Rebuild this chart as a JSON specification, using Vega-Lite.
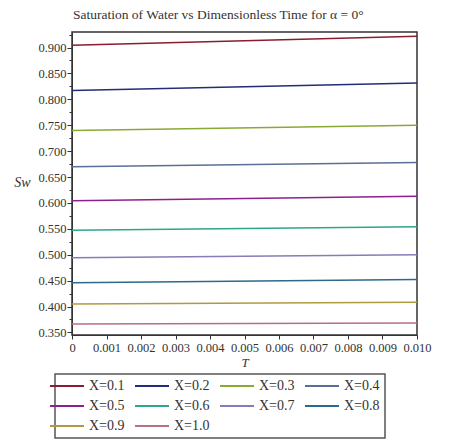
{
  "$schema": "https://vega.github.io/schema/vega-lite/v6.json",
  "width": 345,
  "height": 303,
  "autosize": "none",
  "padding": {"left": 72, "top": 32, "right": 47, "bottom": 111},
  "background": "white",
  "title": {
    "text": "Saturation of Water vs Dimensionless Time for α = 0°",
    "anchor": "start",
    "frame": "group",
    "dx": 1,
    "offset": 11,
    "font": "Liberation Serif",
    "fontSize": 13.5,
    "fontWeight": "normal",
    "color": "#333"
  },
  "data": {
    "values": [
      {"T": 0, "Sw": 0.9045, "X": "X=0.1"},
      {"T": 0.01, "Sw": 0.922, "X": "X=0.1"},
      {"T": 0, "Sw": 0.817, "X": "X=0.2"},
      {"T": 0.01, "Sw": 0.8316, "X": "X=0.2"},
      {"T": 0, "Sw": 0.740, "X": "X=0.3"},
      {"T": 0.01, "Sw": 0.750, "X": "X=0.3"},
      {"T": 0, "Sw": 0.670, "X": "X=0.4"},
      {"T": 0.01, "Sw": 0.678, "X": "X=0.4"},
      {"T": 0, "Sw": 0.604, "X": "X=0.5"},
      {"T": 0.01, "Sw": 0.613, "X": "X=0.5"},
      {"T": 0, "Sw": 0.547, "X": "X=0.6"},
      {"T": 0.01, "Sw": 0.554, "X": "X=0.6"},
      {"T": 0, "Sw": 0.494, "X": "X=0.7"},
      {"T": 0.01, "Sw": 0.500, "X": "X=0.7"},
      {"T": 0, "Sw": 0.446, "X": "X=0.8"},
      {"T": 0.01, "Sw": 0.452, "X": "X=0.8"},
      {"T": 0, "Sw": 0.405, "X": "X=0.9"},
      {"T": 0.01, "Sw": 0.408, "X": "X=0.9"},
      {"T": 0, "Sw": 0.366, "X": "X=1.0"},
      {"T": 0.01, "Sw": 0.368, "X": "X=1.0"}
    ]
  },
  "layer": [
    {
      "mark": {"type": "line", "strokeWidth": 1.5},
      "encoding": {
        "x": {
          "field": "T",
          "type": "quantitative",
          "scale": {"domain": [0, 0.01], "nice": false, "zero": false},
          "axis": {
            "values": [0, 0.001, 0.002, 0.003, 0.004, 0.005, 0.006, 0.007, 0.008, 0.009, 0.01],
            "labelExpr": "datum.value == 0 ? '0' : format(datum.value, '.3f')",
            "labelOverlap": false,
            "labelFont": "Liberation Serif",
            "title": "T",
            "titleFontStyle": "italic",
            "titleFontWeight": "normal",
            "titleFont": "Liberation Serif",
            "titleFontSize": 13,
            "titlePadding": 3,
            "grid": false,
            "tickSize": 4,
            "labelPadding": 2,
            "labelFlush": false
          }
        },
        "y": {
          "field": "Sw",
          "type": "quantitative",
          "scale": {"domain": [0.345, 0.93], "nice": false, "zero": false},
          "axis": {
            "values": [0.35, 0.4, 0.45, 0.5, 0.55, 0.6, 0.65, 0.7, 0.75, 0.8, 0.85, 0.9],
            "format": ".3f",
            "labelOverlap": false,
            "labelFont": "Liberation Serif",
            "title": "Sw",
            "titleAngle": 0,
            "titleFontStyle": "italic",
            "titleFontWeight": "normal",
            "titleFont": "Liberation Serif",
            "titleFontSize": 14,
            "titleX": -50,
            "titleY": 157,
            "titleAlign": "center",
            "grid": false,
            "tickSize": 5,
            "labelPadding": 1
          }
        },
        "color": {
          "field": "X",
          "type": "nominal",
          "scale": {
            "domain": ["X=0.1", "X=0.2", "X=0.3", "X=0.4", "X=0.5", "X=0.6", "X=0.7", "X=0.8", "X=0.9", "X=1.0"],
            "range": ["#8a1c30", "#232c78", "#8aa834", "#5a6f96", "#8e1f8e", "#2fa58a", "#8a7ab8", "#2a6a8a", "#b09a40", "#b87080"]
          },
          "legend": {
            "title": null,
            "orient": "none",
            "legendX": -17,
            "legendY": 342,
            "direction": "horizontal",
            "columns": 4,
            "symbolType": "M-3.4,0H3.4",
            "symbolSize": 100,
            "symbolStrokeWidth": 2,
            "labelFont": "Liberation Serif",
            "labelFontSize": 14,
            "labelColor": "#333",
            "labelOffset": 15,
            "columnPadding": 6,
            "rowPadding": 6,
            "padding": 5,
            "strokeColor": "#555",
            "fillColor": "white",
            "encode": {
              "legend": {
                "update": {
                  "stroke": {"value": "#555"},
                  "strokeWidth": {"value": 1.5}
                }
              }
            }
          }
        }
      }
    },
    {
      "mark": {"type": "point", "opacity": 0},
      "encoding": {
        "y": {
          "field": "Sw",
          "type": "quantitative",
          "axis": {
            "orient": "left",
            "values": [0.375, 0.425, 0.475, 0.525, 0.575, 0.625, 0.675, 0.725, 0.775, 0.825, 0.875, 0.925],
            "labels": false,
            "domain": false,
            "title": null,
            "grid": false,
            "tickSize": 3
          }
        }
      }
    }
  ],
  "resolve": {"axis": {"y": "independent"}},
  "config": {
    "view": {"stroke": "#333", "strokeWidth": 1.5},
    "axis": {
      "labelFont": "Liberation Serif",
      "labelFontSize": 12.5,
      "labelOverlap": false,
      "labelColor": "#333",
      "domainColor": "#333",
      "tickColor": "#333",
      "titleColor": "#333"
    }
  }
}
